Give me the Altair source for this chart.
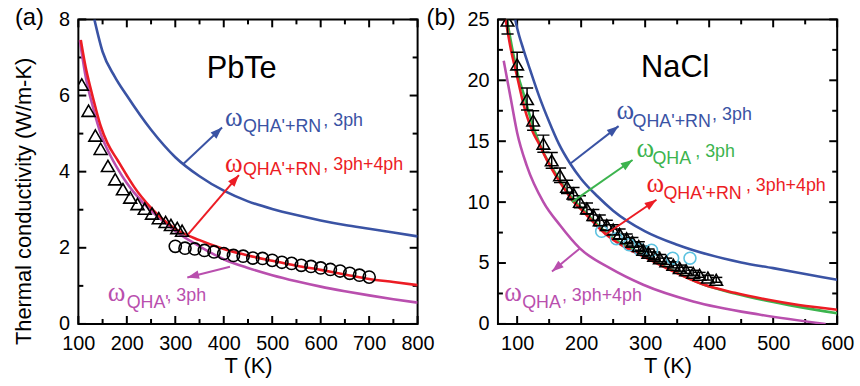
import math
import altair as alt
import pandas as pd

# ---------------- PbTe (panel a) ----------------
PBTE_BLUE_T = [133, 150, 175, 200, 250, 300, 350, 400, 450, 500, 550, 600, 650, 700, 750, 800]
PBTE_BLUE_K = [8.0, 7.15, 6.5, 6.0, 5.1, 4.38, 3.88, 3.5, 3.22, 3.02, 2.86, 2.72, 2.6, 2.5, 2.4, 2.3]

PBTE_RED_T = [105, 115, 125, 135, 146, 160, 181, 200, 215, 250, 300, 350, 400, 450, 500, 550, 600, 650, 700, 750, 800]
PBTE_RED_K = [7.46, 6.75, 6.2, 5.7, 5.2, 4.75, 4.3, 3.9, 3.6, 3.05, 2.5, 2.2, 1.97, 1.8, 1.66, 1.53, 1.42, 1.3, 1.18, 1.1, 1.02]

PBTE_MAG_T = [103, 115, 130, 146, 165, 181, 200, 215, 250, 283, 300, 350, 400, 450, 500, 550, 600, 650, 700, 750, 800]
PBTE_MAG_K = [7.46, 6.5, 5.7, 5.0, 4.45, 4.08, 3.7, 3.45, 2.97, 2.62, 2.44, 2.04, 1.7, 1.47, 1.28, 1.12, 0.98, 0.86, 0.75, 0.65, 0.56]

PBTE_TRI_T = [107, 121, 135, 146, 161, 176, 192, 207, 222, 237, 252, 266, 280, 291, 304, 314]
PBTE_TRI_K = [6.29, 5.60, 4.95, 4.60, 4.15, 3.80, 3.54, 3.32, 3.15, 3.03, 2.90, 2.78, 2.68, 2.60, 2.52, 2.45]

PBTE_CIR_T = [300, 320, 340, 360, 380, 400, 420, 440, 460, 480, 500, 520, 540, 560, 580, 600, 620, 640, 660, 680, 700]
PBTE_CIR_K = [2.04, 1.99, 1.97, 1.93, 1.89, 1.85, 1.80, 1.78, 1.73, 1.72, 1.67, 1.62, 1.59, 1.54, 1.51, 1.47, 1.43, 1.39, 1.33, 1.28, 1.23]

PBTE_NOTE_COLOR = ["blue", "red", "magenta"]
PBTE_NOTE_SUB = ["QHA'+RN", "QHA'+RN", "QHA'"]
PBTE_NOTE_TAIL = [", 3ph", ", 3ph+4ph", ", 3ph"]
PBTE_OMEGA_T = [402.6, 402.6, 160.8]
PBTE_OMEGA_K = [5.21, 3.99, 0.61]
PBTE_SUB_T = [439.5, 439.5, 199.7]
PBTE_SUB_K = [5.03, 3.91, 0.42]
PBTE_TAIL_T = [605.5, 605.5, 281.7]
PBTE_TAIL_K = [5.21, 4.04, 0.61]

PBTE_ARROW_COLOR = ["blue", "red", "magenta"]
PBTE_ARROW_T0 = [316.6, 326.8, 412.9]
PBTE_ARROW_K0 = [4.2, 2.36, 1.5]
PBTE_ARROW_T1 = [396.5, 431.3, 324.8]
PBTE_ARROW_K1 = [5.16, 3.91, 1.22]

# ---------------- NaCl (panel b) ----------------
NACL_BLUE_T = [97, 100, 110, 120, 135, 150, 165, 183, 200, 225, 250, 300, 350, 400, 450, 500, 550, 600]
NACL_BLUE_K = [25, 24.3, 22.5, 20.9, 18.6, 16.6, 14.8, 13.15, 11.9, 10.5, 9.3, 7.6, 6.5, 5.67, 5.05, 4.58, 4.1, 3.62]

NACL_GREEN_T = [84, 92, 101, 110, 125, 140, 160, 188, 200, 220, 240, 265, 292, 333, 390, 440, 490, 540, 600]
NACL_GREEN_K = [25, 22.7, 20.5, 18.9, 16.2, 14.2, 12.35, 10.2, 9.55, 8.45, 7.45, 6.55, 5.8, 4.65, 3.25, 2.5, 1.9, 1.4, 0.88]

NACL_RED_T = [82, 90, 100, 108, 115, 125, 134, 147, 160, 175, 188, 200, 220, 240, 265, 292, 333, 390, 440, 490, 540, 600]
NACL_RED_K = [25, 22.6, 20.3, 18.46, 17.1, 15.7, 14.8, 13.4, 12.2, 11.0, 10.03, 9.4, 8.3, 7.3, 6.4, 5.67, 4.58, 3.25, 2.55, 2.0, 1.55, 1.17]

NACL_MAG_T = [79, 90, 100, 115, 141, 167, 198, 245, 297, 375, 478, 582]
NACL_MAG_K = [21.6, 18.5, 15.7, 13.0, 10.0, 8.1, 6.2, 4.58, 3.22, 1.85, 0.77, 0.0]

NACL_TRI_T = [85, 100, 115.5, 125, 141, 154, 167, 178, 188, 198, 209, 219, 229, 240, 250, 260,
              271, 280, 290, 297, 305, 314, 323, 333, 344, 354, 364, 375, 385, 398, 411]
NACL_TRI_K = [24.9, 21.3, 18.46, 16.7, 14.8, 13.43, 12.2, 11.25, 10.7, 10.03, 9.48, 8.94, 8.5, 8.12, 7.75, 7.4,
              7.03, 6.75, 6.4, 6.08, 5.85, 5.6, 5.4, 5.15, 4.85, 4.58, 4.4, 4.2, 4.03, 3.8, 3.62]
NACL_TRI_ERR = [1.1, 1.0, 0.9, 0.8, 0.7, 0.65, 0.6, 0.55, 0.5, 0.5, 0.45, 0.45, 0.45, 0.4, 0.4, 0.4,
                0.35, 0.35, 0.35, 0.3, 0.3, 0.3, 0.3, 0.25, 0.25, 0.25, 0.25, 0.2, 0.2, 0.2, 0.2]

NACL_CIR_T = [232, 255, 275, 292, 310, 343, 370]
NACL_CIR_K = [7.6, 7.0, 6.5, 6.1, 6.05, 5.4, 5.4]

NACL_NOTE_COLOR = ["blue", "green", "red", "magenta"]
NACL_NOTE_SUB = ["QHA'+RN", "QHA", "QHA'+RN", "QHA"]
NACL_NOTE_TAIL = [", 3ph", ", 3ph", ", 3ph+4ph", ", 3ph+4ph"]
NACL_OMEGA_T = [255.4, 286.5, 302.0, 79.8]
NACL_OMEGA_K = [16.8, 13.7, 10.84, 1.85]
NACL_SUB_T = [280.3, 311.4, 328.5, 107.8]
NACL_SUB_K = [16.15, 13.13, 10.27, 1.28]
NACL_TAIL_T = [404.6, 378.2, 457.4, 170.0]
NACL_TAIL_K = [16.72, 13.7, 10.92, 1.85]

NACL_ARROW_COLOR = ["blue", "green", "red", "magenta"]
NACL_ARROW_T0 = [182.3, 185.5, 236.8, 197.9]
NACL_ARROW_K0 = [13.13, 10.0, 7.3, 6.2]
NACL_ARROW_T1 = [258.5, 280.3, 317.6, 154.4]
NACL_ARROW_K1 = [16.24, 13.46, 10.19, 4.31]

COLORS = {"blue": "#3a53a4", "red": "#ec1c24", "magenta": "#b94fae",
          "green": "#3cb44e", "cyan": "#5cc2e0"}

W, H = 342, 307
SANS = "Liberation Sans"
SERIF = "Liberation Serif"
MAJOR_LEN, MINOR_LEN = 8, 5


def panel(xdom, ydom, xmaj, xmin, ymaj, ymin, curves, points, errbars, notes, arrows,
          name, name_pos, tag, tag_x, ytitle=None):
    xs = alt.Scale(domain=xdom, nice=False, zero=False)
    ys = alt.Scale(domain=ydom, nice=False, zero=False)
    sx = W / (xdom[1] - xdom[0])   # pixels per kelvin
    sy = H / (ydom[1] - ydom[0])   # pixels per W/m-K

    x_axis = alt.Axis(values=xmaj, ticks=False, domain=False, grid=False, labelFlush=False,
                      labelOverlap=False, labelFont=SANS, labelFontSize=20,
                      labelColor="black", labelPadding=10, title="T (K)", titleFont=SANS,
                      titleFontSize=22, titleFontWeight="normal", titleColor="black",
                      titlePadding=2)
    y_opts = dict(values=ymaj, ticks=False, domain=False, grid=False, labelFlush=False,
                  labelOverlap=False, labelFont=SANS, labelFontSize=20, labelColor="black",
                  labelPadding=9)
    if ytitle:
        y_opts.update(title=ytitle, titleFont=SANS, titleFontSize=22,
                      titleFontWeight="normal", titleColor="black", titleAngle=270,
                      titleAlign="center", titleBaseline="middle", titleX=-55, titleY=183)
    else:
        y_opts.update(title=None)
    y_axis = alt.Axis(**y_opts)

    # every layer carries the same axis definition, so the shared axes merge cleanly
    def X(field):
        return alt.X(field, type="quantitative", scale=xs, axis=x_axis)

    def Y(field):
        return alt.Y(field, type="quantitative", scale=ys, axis=y_axis)

    layers = []

    # inward ticks on all four sides, drawn as short rules from the frame edge
    for vals, length in ((xmaj, MAJOR_LEN), (xmin, MINOR_LEN)):
        for edge, sign in ((ydom[0], 1), (ydom[1], -1)):
            df = pd.DataFrame({"T": vals, "k0": [edge] * len(vals),
                               "k1": [edge + sign * length / sy] * len(vals)})
            layers.append(alt.Chart(df).mark_rule(color="black", strokeWidth=2)
                          .encode(x=X("T"), y=Y("k0"), y2="k1"))
    for vals, length in ((ymaj, MAJOR_LEN), (ymin, MINOR_LEN)):
        for edge, sign in ((xdom[0], 1), (xdom[1], -1)):
            df = pd.DataFrame({"k": vals, "t0": [edge] * len(vals),
                               "t1": [edge + sign * length / sx] * len(vals)})
            layers.append(alt.Chart(df).mark_rule(color="black", strokeWidth=2)
                          .encode(x=X("t0"), x2="t1", y=Y("k")))

    for color, ts, ks in curves:
        df = pd.DataFrame({"T": ts, "k": ks})
        layers.append(alt.Chart(df).mark_line(color=COLORS[color], strokeWidth=2.6,
                                              interpolate="monotone", clip=True)
                      .encode(x=X("T"), y=Y("k")))

    for ts, ks, errs in errbars:
        df = pd.DataFrame({"T": ts, "lo": [k - e for k, e in zip(ks, errs)],
                           "hi": [k + e for k, e in zip(ks, errs)]})
        layers.append(alt.Chart(df).mark_rule(color="black", strokeWidth=1.5, clip=True)
                      .encode(x=X("T"), y=Y("lo"), y2="hi"))
        for end in ("lo", "hi"):
            layers.append(alt.Chart(df).mark_point(shape="M-1,0L1,0", size=150, filled=False,
                                                   stroke="black", strokeWidth=1.5,
                                                   opacity=1, clip=True)
                          .encode(x=X("T"), y=Y(end)))

    for shape, color, size, ts, ks in points:
        df = pd.DataFrame({"T": ts, "k": ks})
        layers.append(alt.Chart(df).mark_point(shape=shape, size=size, filled=False,
                                               stroke=COLORS.get(color, color),
                                               strokeWidth=1.6, opacity=1, clip=True)
                      .encode(x=X("T"), y=Y("k")))

    # arrows: shaft as a rule, head as a rotated wedge whose tip sits on the end point
    acol, t0, k0, t1, k1 = arrows
    angles = []
    for a, b, c, d in zip(t0, k0, t1, k1):
        dx = (c - a) * sx
        dy = -(d - b) * sy
        angles.append(math.degrees(math.atan2(dx, -dy)) % 360)
    adf = pd.DataFrame({"t0": t0, "k0": k0, "t1": t1, "k1": k1,
                        "col": [COLORS[c] for c in acol], "ang": angles})
    layers.append(alt.Chart(adf).mark_rule(strokeWidth=2).encode(
        x=X("t0"), y=Y("k0"), x2="t1", y2="k1", color=alt.Color("col:N", scale=None)))
    layers.append(alt.Chart(adf).mark_point(shape="M0,0L-0.36,1L0.36,1Z", size=560,
                                            filled=True, opacity=1, strokeWidth=0).encode(
        x=X("t1"), y=Y("k1"), angle=alt.Angle("ang:Q", scale=None),
        color=alt.Color("col:N", scale=None)))

    # curve labels: omega, subscript, tail
    ncol, sub, tail, ot, ok, st, sk, tt, tk = notes
    cols = [COLORS[c] for c in ncol]
    odf = pd.DataFrame({"T": ot, "k": ok, "txt": ["\u03c9"] * len(ot), "col": cols})
    sdf = pd.DataFrame({"T": st, "k": sk, "txt": sub, "col": cols})
    tdf = pd.DataFrame({"T": tt, "k": tk, "txt": tail, "col": cols})
    layers.append(alt.Chart(odf).mark_text(font=SERIF, fontSize=27, align="left",
                                           baseline="alphabetic").encode(
        x=X("T"), y=Y("k"), text="txt:N", color=alt.Color("col:N", scale=None)))
    for df in (sdf, tdf):
        layers.append(alt.Chart(df).mark_text(font=SANS, fontSize=18, align="left",
                                              baseline="alphabetic").encode(
            x=X("T"), y=Y("k"), text="txt:N", color=alt.Color("col:N", scale=None)))

    ndf = pd.DataFrame({"T": [name_pos[0]], "k": [name_pos[1]], "txt": [name]})
    layers.append(alt.Chart(ndf).mark_text(font=SANS, fontSize=31, align="center",
                                           baseline="alphabetic", color="black").encode(
        x=X("T"), y=Y("k"), text="txt:N"))

    tagdf = pd.DataFrame({"txt": [tag]})
    layers.append(alt.Chart(tagdf).mark_text(font=SANS, fontSize=24, align="left",
                                             baseline="alphabetic", color="black").encode(
        x=alt.value(tag_x), y=alt.value(6), text="txt:N"))

    return alt.layer(*layers).properties(width=W, height=H)


left = panel(
    [100, 800], [0, 8],
    list(range(100, 801, 100)), list(range(150, 800, 100)),
    [0, 2, 4, 6, 8], [1, 3, 5, 7],
    curves=[("blue", PBTE_BLUE_T, PBTE_BLUE_K),
            ("magenta", PBTE_MAG_T, PBTE_MAG_K),
            ("red", PBTE_RED_T, PBTE_RED_K)],
    points=[("triangle-up", "black", 170, PBTE_TRI_T, PBTE_TRI_K),
            ("circle", "black", 150, PBTE_CIR_T, PBTE_CIR_K)],
    errbars=[],
    notes=(PBTE_NOTE_COLOR, PBTE_NOTE_SUB, PBTE_NOTE_TAIL, PBTE_OMEGA_T, PBTE_OMEGA_K,
           PBTE_SUB_T, PBTE_SUB_K, PBTE_TAIL_T, PBTE_TAIL_K),
    arrows=(PBTE_ARROW_COLOR, PBTE_ARROW_T0, PBTE_ARROW_K0, PBTE_ARROW_T1, PBTE_ARROW_K1),
    name="PbTe", name_pos=(437, 6.46), tag="(a)", tag_x=-64,
    ytitle="Thermal conductivity (W/m-K)",
)

right = panel(
    [70, 600], [0, 25],
    list(range(100, 601, 100)), list(range(150, 600, 100)),
    [0, 5, 10, 15, 20, 25], [2.5, 7.5, 12.5, 17.5, 22.5],
    curves=[("magenta", NACL_MAG_T, NACL_MAG_K),
            ("blue", NACL_BLUE_T, NACL_BLUE_K),
            ("green", NACL_GREEN_T, NACL_GREEN_K),
            ("red", NACL_RED_T, NACL_RED_K)],
    points=[("circle", "cyan", 144, NACL_CIR_T, NACL_CIR_K),
            ("triangle-up", "black", 160, NACL_TRI_T, NACL_TRI_K)],
    errbars=[(NACL_TRI_T, NACL_TRI_K, NACL_TRI_ERR)],
    notes=(NACL_NOTE_COLOR, NACL_NOTE_SUB, NACL_NOTE_TAIL, NACL_OMEGA_T, NACL_OMEGA_K,
           NACL_SUB_T, NACL_SUB_K, NACL_TAIL_T, NACL_TAIL_K),
    arrows=(NACL_ARROW_COLOR, NACL_ARROW_T0, NACL_ARROW_K0, NACL_ARROW_T1, NACL_ARROW_K1),
    name="NaCl", name_pos=(347, 20.24), tag="(b)", tag_x=-72,
)

chart = (alt.hconcat(left, right, spacing=81, bounds="flush")
         .configure_view(stroke="black", strokeWidth=2)
         .properties(padding={"left": 11, "top": 4, "right": 5, "bottom": 5},
                     background="white"))

chart.save("out.html", embed_options={"renderer": "svg", "actions": False})
